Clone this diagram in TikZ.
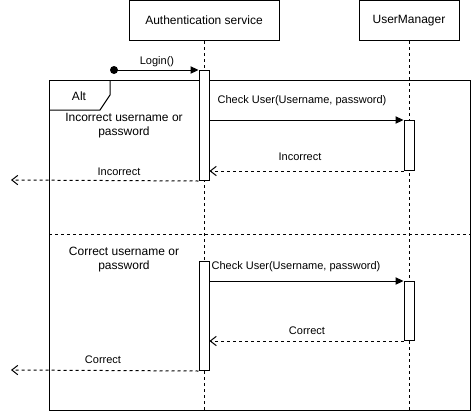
\documentclass[tikz,border=0pt]{standalone}
\usepackage{fontspec}
\setmainfont{Liberation Sans}
\usetikzlibrary{arrows.meta}
\begin{document}
\begin{tikzpicture}[x=0.75pt,y=-0.75pt,line width=0.75pt,
  party/.style={draw,minimum width=112.5pt,minimum height=30pt,inner sep=0pt,font=\fontsize{9}{10.5}\selectfont},
  act/.style={draw,fill=white,minimum width=7.5pt,inner sep=0pt,anchor=north},
  life/.style={dash pattern=on 2.25pt off 2.25pt},
  msg/.style={-{Triangle[length=6pt,width=5.5pt]}},
  ret/.style={life,-{Straight Barb[length=4.5pt,width=7pt]}},
  lbl/.style={font=\fontsize{8.25}{9}\selectfont,fill=white,inner sep=1pt},
  grp/.style={font=\fontsize{9}{10.5}\selectfont,align=center,inner sep=0pt}]
\useasboundingbox (0,0) rectangle (472,412);
% participants
\node[party] (auth) at (204,20.5) {Authentication service};
\node[party,minimum width=75pt] (um) at (409,20.5) {UserManager};
% alt frame
\draw (49,80) rectangle (470,410);
\draw (49,110) -- (100,110) -- (110,95) -- (110,80);
\node[grp] (alt) at (79,96) {Alt};
\draw[life] (49,234) -- (470,234);
\node[grp] (cond1) at (124,126) {Incorrect username or\\password};
\node[grp] (cond2) at (124,260) {Correct username or\\password};
% lifelines
\coordinate (authend) at (204,410);
\coordinate (umend) at (409,410);
\draw[life] (auth.south) -- (authend);
\draw[life] (um.south) -- (umend);
% activations
\node[act,minimum height=82.5pt] (a1) at (204,70) {};
\node[act,minimum height=37.5pt] (u1) at (409,120) {};
\node[act,minimum height=81.75pt] (a2) at (204,261) {};
\node[act,minimum height=44.25pt] (u2) at (409,281) {};
% login
\coordinate (start) at (114,70);
\fill (start) circle (4);
\draw[msg] (start) -- (a1.north west);
\node[lbl] (login) at (157,62) {Login()};
% incorrect case
\draw[msg] (a1.east |- u1.north) -- (u1.north west);
\node[lbl] (chk1) at (302,101) {Check User(Username, password)};
\draw[ret] (u1.south west) -- (a1.east |- u1.south);
\node[lbl] (inc1) at (300,157) {Incorrect};
\coordinate (out1) at (11,180);
\draw[ret] (a1.south west) -- (out1);
\node[lbl] (inc2) at (119,172) {Incorrect};
% correct case
\draw[msg] (a2.east |- u2.north) -- (u2.north west);
\node[lbl] (chk2) at (296,267) {Check User(Username, password)};
\draw[ret] (u2.south west) -- (a2.east |- u2.south);
\node[lbl] (cor1) at (307,331) {Correct};
\coordinate (out2) at (11,370);
\draw[ret] (a2.south west) -- (out2);
\node[lbl] (cor2) at (103,360) {Correct};
\end{tikzpicture}
\end{document}
